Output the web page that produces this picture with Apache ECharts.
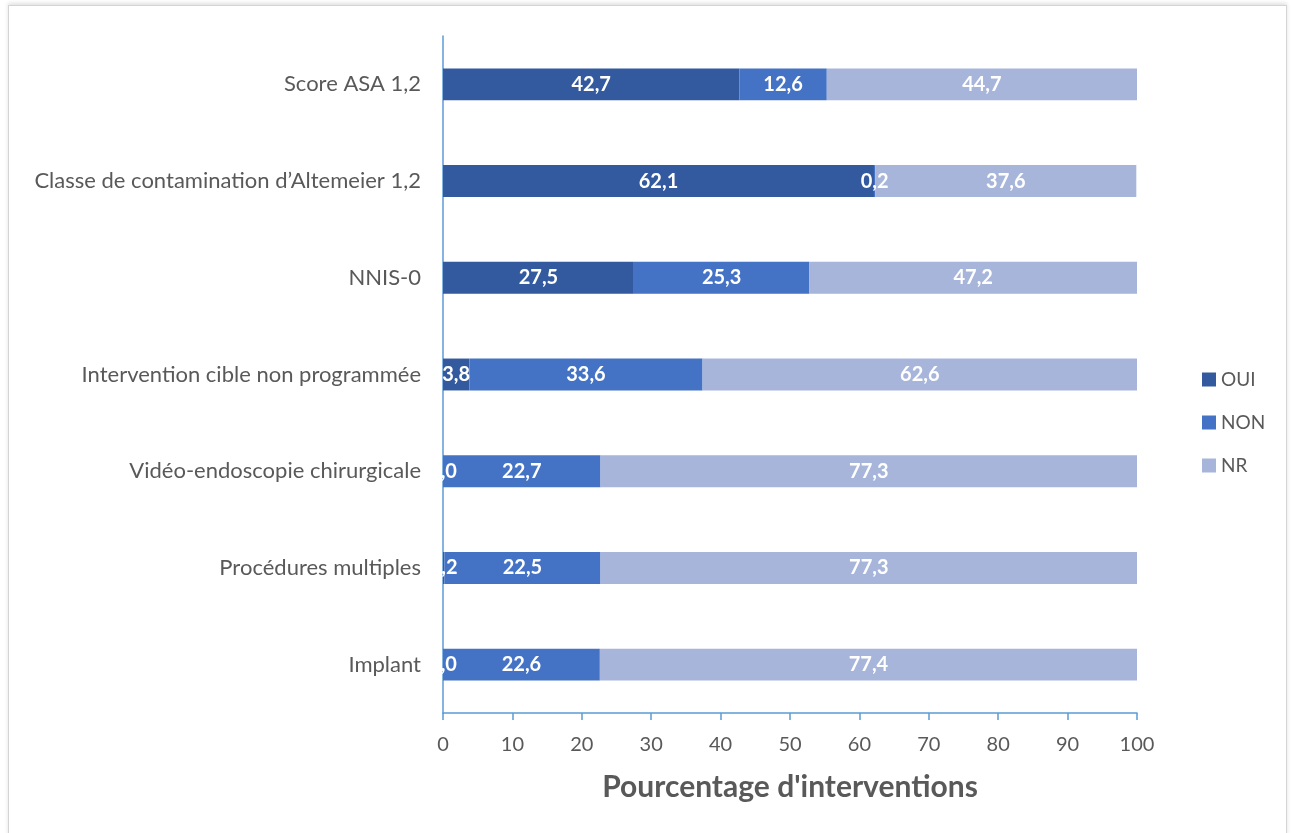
<!DOCTYPE html>
<html>
<head>
<meta charset="utf-8">
<script src="https://cdn.jsdelivr.net/npm/echarts@6/dist/echarts.min.js"></script>
<style>
    html, body { margin: 0; padding: 0; background: #fff; }
    .frame {
        position: absolute; left: 8px; top: 5px; width: 1277px; height: 830px;
        border: 1px solid #d4d4d4; box-shadow: 0 -2px 4px rgba(0,0,0,0.12);
    }
    #chart { position: absolute; left: 0; top: 0; width: 1291px; height: 833px; }
</style>
</head>
<body>
<div class="frame"></div>
<div id="chart"></div>
<script>
const categories = [
    'Score ASA 1,2',
    'Classe de contamination d\u2019Altemeier 1,2',
    'NNIS-0',
    'Intervention cible non programmée',
    'Vidéo-endoscopie chirurgicale',
    'Procédures multiples',
    'Implant'
];
const oui = [42.7, 62.1, 27.5, 3.8, 0.0, 0.2, 0.0];
const non = [12.6, 0.2, 25.3, 33.6, 22.7, 22.5, 22.6];
const nr = [44.7, 37.6, 47.2, 62.6, 77.3, 77.3, 77.4];
const xTicks = { min: 0, max: 100, interval: 10 };

const FONT = 'Lato, "Noto Sans", sans-serif';
const axisBlue = '#5B9BD5';
const textGrey = '#595959';

const makeSeries = (name, values, color) => ({
    name,
    type: 'bar',
    stack: 'total',
    barWidth: '33%',
    data: values,
    itemStyle: { color },
    label: {
        show: true,
        position: 'inside',
        color: '#fff',
        fontFamily: FONT,
        fontWeight: 'bold',
        fontSize: 20,
        formatter: p => p.value.toFixed(1).replace('.', ',')
    }
});

const chart = echarts.init(document.getElementById('chart'));
chart.setOption({
    animation: false,
    textStyle: { fontFamily: FONT },
    grid: { left: 443, right: 154, top: 36, bottom: 120 },
    legend: {
        orient: 'vertical',
        left: 1197,
        top: 365,
        itemGap: 24,
        itemWidth: 14,
        itemHeight: 14,
        icon: 'rect',
        textStyle: { fontSize: 19, color: textGrey, fontFamily: FONT },
        data: ['OUI', 'NON', 'NR']
    },
    xAxis: {
        type: 'value',
        min: xTicks.min,
        max: xTicks.max,
        interval: xTicks.interval,
        name: "Pourcentage d'interventions",
        nameLocation: 'middle',
        nameGap: 59,
        nameTextStyle: { fontSize: 30, fontWeight: 'bold', color: textGrey, fontFamily: FONT },
        axisLine: { show: true, lineStyle: { color: axisBlue, width: 1.5 } },
        axisTick: { show: true, length: 7, lineStyle: { color: axisBlue, width: 1.5 } },
        axisLabel: { fontSize: 20, color: textGrey, margin: 22 },
        splitLine: { show: false }
    },
    yAxis: {
        type: 'category',
        inverse: true,
        data: categories,
        axisLine: { show: true, lineStyle: { color: axisBlue, width: 1.5 } },
        axisTick: { show: false },
        axisLabel: { fontSize: 22, color: textGrey, margin: 22 }
    },
    series: [
        makeSeries('OUI', oui, '#335A9F'),
        makeSeries('NON', non, '#4472C4'),
        makeSeries('NR', nr, '#A7B5DB')
    ]
});
</script>
</body>
</html>
